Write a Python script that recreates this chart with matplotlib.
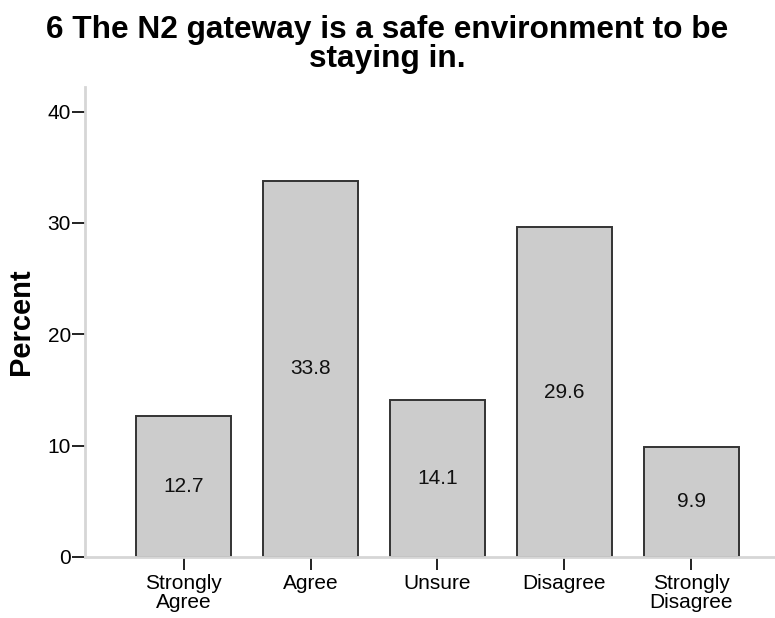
import matplotlib
matplotlib.use("Agg")
import matplotlib.pyplot as plt

categories = ["Strongly\nAgree", "Agree", "Unsure", "Disagree", "Strongly\nDisagree"]
percents = [12.7, 33.8, 14.1, 29.6, 9.9]
yticks = [0, 10, 20, 30, 40]
title = "6 The N2 gateway is a safe environment to be\nstaying in."

plt.rcParams['font.family'] = ['Liberation Sans', 'DejaVu Sans']

fig = plt.figure(figsize=(7.75, 6.18), dpi=100)
ax = fig.add_axes([85/775, 1 - 557/618, 689/775, 470/618])

x = list(range(len(categories)))
ax.bar(x, percents, width=0.748, color="#cccccc", edgecolor="#333333",
       linewidth=1.4, zorder=2)
for xi, v in zip(x, percents):
    ax.text(xi, v / 2, f"{v:.1f}", ha="center", va="center", fontsize=15,
            color="#111111", zorder=3)

ax.set_xlim(-0.776, 4.65)
ax.set_ylim(0, 42.2)
ax.set_yticks(yticks)
ax.set_xticks(x)
ax.set_xticklabels(categories, fontsize=15, linespacing=1.05)
ax.tick_params(axis="y", labelsize=15, length=9.5, width=1.4, color="#222222",
               direction="out", pad=0.5)
ax.tick_params(axis="x", length=9, width=1.4, color="#222222", direction="out",
               pad=3)

for side in ("top", "right"):
    ax.spines[side].set_visible(False)
for side in ("left", "bottom"):
    ax.spines[side].set_color("#d6d6d6")
    ax.spines[side].set_linewidth(2.0)
    ax.spines[side].set_zorder(4)

ax.set_ylabel("Percent", fontsize=21, fontweight="bold", labelpad=9)
fig.suptitle(title, fontsize=22.8, fontweight="bold", y=0.975, linespacing=0.93)

fig.savefig("out.png", dpi=100, facecolor="white")
